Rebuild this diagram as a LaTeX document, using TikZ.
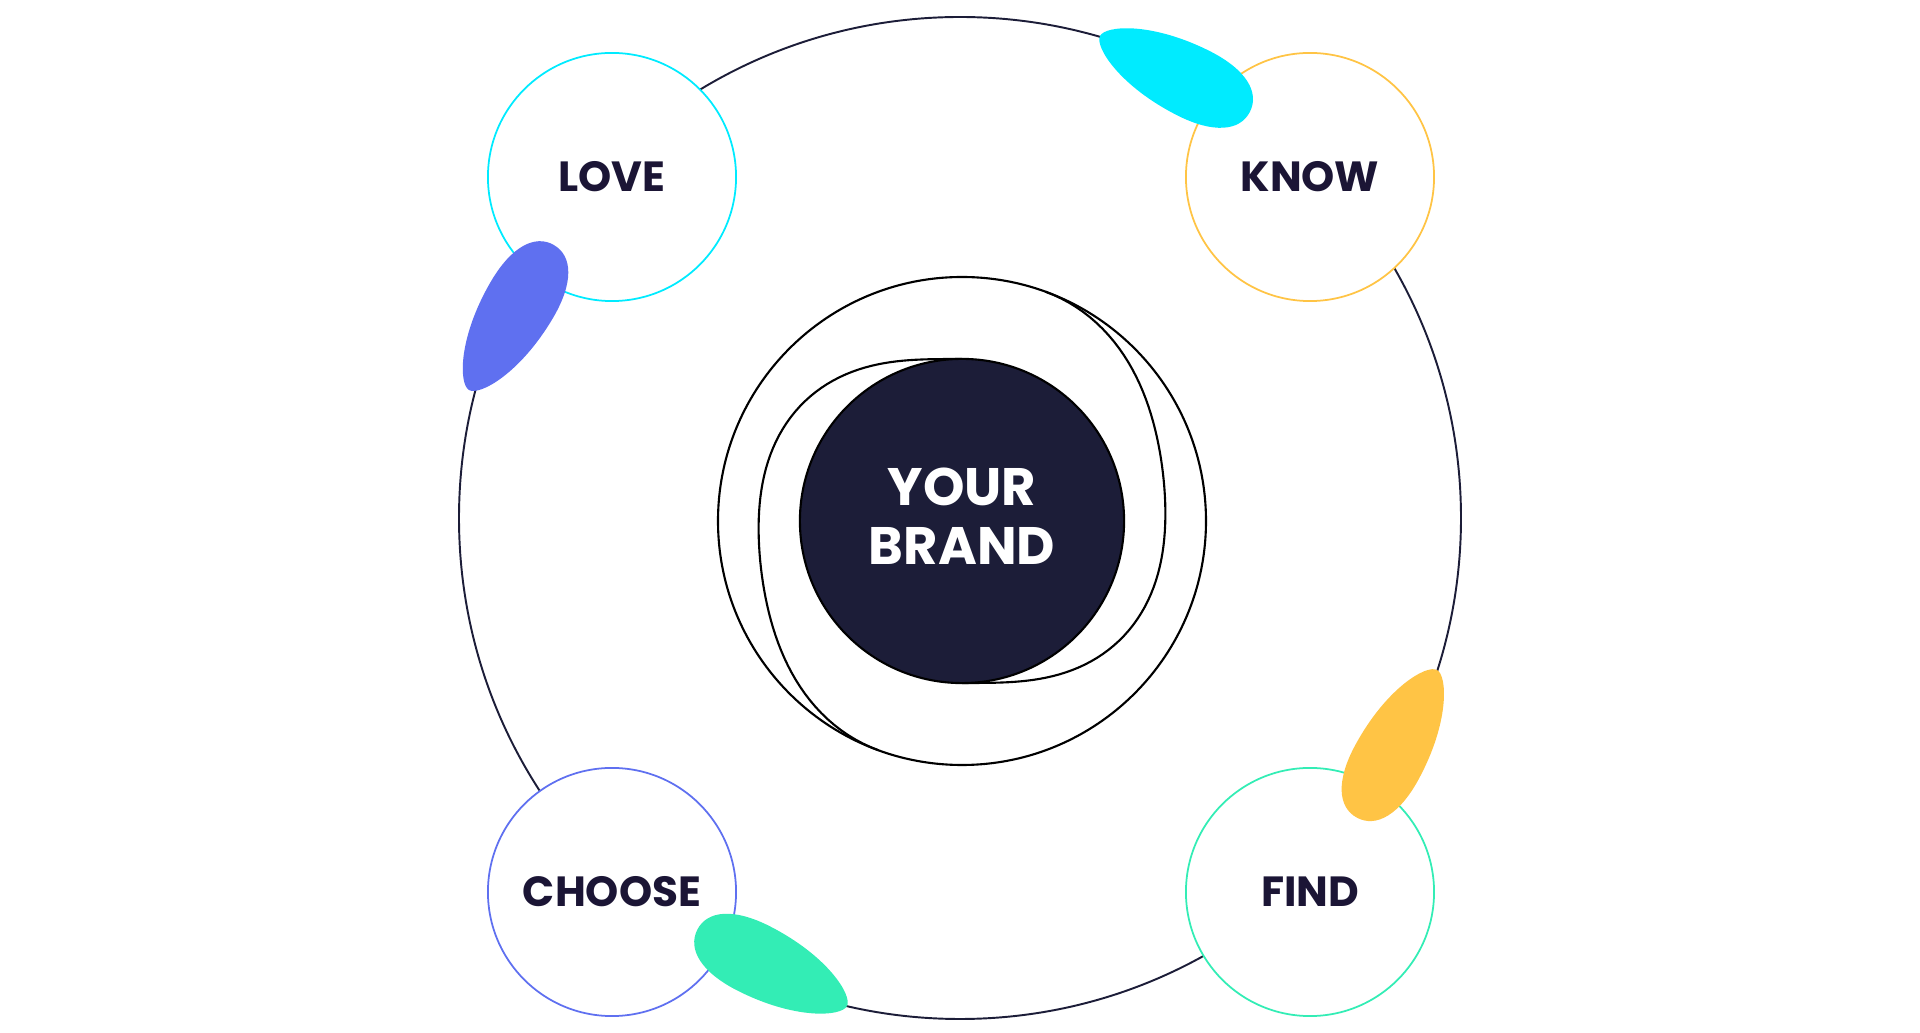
\documentclass[tikz,border=0pt]{standalone}
\usepackage{fontspec}
\setmainfont{Poppins}
\definecolor{ink}{HTML}{1B1535}
\definecolor{navy}{HTML}{1C1D38}
\definecolor{skyc}{HTML}{00EBFF}
\definecolor{sunc}{HTML}{FFC445}
\definecolor{mintc}{HTML}{33EDB5}
\definecolor{irisc}{HTML}{5F70F0}

\begin{document}
\begin{tikzpicture}[x=0.01cm, y=0.01cm,
    declare function={swirl(\t)=203+41*sin(1.125*(\t-170))*sin(1.125*(\t-170))*sin(1.125*(\t-170));},
    stage/.style={circle, draw, fill=white, line width=0.5pt, minimum size=2.48cm,
      inner sep=0pt, text=ink, font=\bfseries\fontsize{12}{14}\selectfont},
    ring/.style={line width=0.6pt},
    petal/.pic={\fill[pic actions] (0,0) .. controls (0,12) and (40,36) .. (105,36)
      .. controls (145,36) and (168,22) .. (168,0)
      .. controls (168,-22) and (145,-36) .. (105,-36)
      .. controls (40,-36) and (0,-12) .. (0,0) -- cycle;}]
  \useasboundingbox (0,0) rectangle (1920,1033);

  % big orbit behind the four stages
  \draw[navy, line width=0.55pt] (960,515) circle (501);

  % the four stages
  \node[stage, draw=skyc]  (love)   at (612,856)  {LOVE};
  \node[stage, draw=sunc]  (know)   at (1310,856) {KNOW};
  \node[stage, draw=irisc] (choose) at (612,141)  {CHOOSE};
  \node[stage, draw=mintc] (find)   at (1310,141) {FIND};

  % rings round the brand
  \coordinate (core) at (962,512);
  \draw[ring] (core) circle (244);
  % left swirl, from the brand top out to the outer ring
  \draw[ring] plot[domain=90:250, samples=80, variable=\t]
    ({962+swirl(\t)*cos(\t)}, {512+swirl(\t)*sin(\t)});
  % right swirl, from the outer ring in to the brand bottom
  \draw[ring] plot[domain=90:250, samples=80, variable=\t]
    ({962-swirl(\t)*cos(\t)}, {512-swirl(\t)*sin(\t)});
  \node[circle, draw, ring, fill=navy, minimum size=3.24cm] (brand) at (core) {};
  \node[text=white, align=center, font=\bfseries\fontsize{15}{16.8}\selectfont]
    (brandname) at ([yshift=1.4pt]brand.center) {YOUR\\BRAND};

  % petals on the orbit
  \pic[fill=irisc, rotate=59.6]  at (469,643)  {petal};
  \pic[fill=skyc,  rotate=-26.8] at (1100,997) {petal};
  \pic[fill=sunc,  rotate=241.5] at (1437,363) {petal};
  \pic[fill=mintc, rotate=153]   at (847,27)   {petal};
\end{tikzpicture}
\end{document}
